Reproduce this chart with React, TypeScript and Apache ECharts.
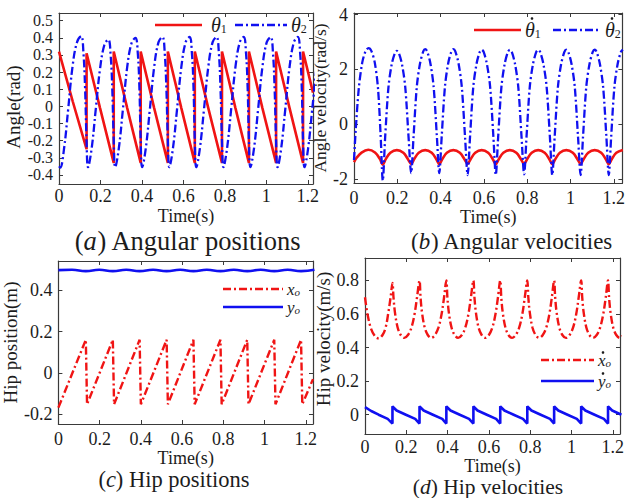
import React, { useEffect, useRef } from 'react';
import * as echarts from 'echarts';

// ---------------- data ----------------
// (a) angular positions
const theta1: number[][] = [
  [0, 0.32], [0.066, 0.03], [0.133, -0.25], [0.133, 0.31],
  [0.198, -0.01], [0.264, -0.33], [0.264, 0.32],
  [0.329, -0.01], [0.394, -0.33], [0.394, 0.32],
  [0.459, -0.01], [0.525, -0.33], [0.525, 0.32],
  [0.59, -0.01], [0.655, -0.33], [0.655, 0.32],
  [0.72, -0.01], [0.786, -0.33], [0.786, 0.32],
  [0.851, -0.01], [0.916, -0.33], [0.916, 0.32],
  [0.981, -0.01], [1.047, -0.33], [1.047, 0.32],
  [1.112, -0.01], [1.177, -0.33], [1.177, 0.32],
  [1.225, 0.08],
];
const theta2: number[][] = [
  [0, -0.35], [0.006, -0.358], [0.024, -0.25], [0.044, -0.02], [0.066, 0.24], [0.087, 0.375], [0.107, 0.41], [0.118, 0.31], [0.126, 0.1],
  [0.133, -0.2], [0.14, -0.355], [0.157, -0.25], [0.177, -0.02], [0.198, 0.22], [0.219, 0.36], [0.238, 0.39], [0.249, 0.3], [0.257, 0.1],
  [0.264, -0.2], [0.271, -0.355], [0.288, -0.25], [0.308, -0.02], [0.329, 0.23], [0.35, 0.37], [0.369, 0.4], [0.38, 0.31], [0.388, 0.1],
  [0.394, -0.2], [0.401, -0.355], [0.418, -0.25], [0.438, -0.02], [0.459, 0.23], [0.48, 0.375], [0.499, 0.405], [0.51, 0.31], [0.518, 0.1],
  [0.525, -0.2], [0.532, -0.355], [0.549, -0.25], [0.569, -0.02], [0.59, 0.23], [0.611, 0.375], [0.63, 0.405], [0.641, 0.31], [0.649, 0.1],
  [0.655, -0.2], [0.662, -0.355], [0.679, -0.25], [0.699, -0.02], [0.72, 0.23], [0.741, 0.375], [0.76, 0.405], [0.771, 0.31], [0.779, 0.1],
  [0.786, -0.2], [0.793, -0.355], [0.81, -0.25], [0.83, -0.02], [0.851, 0.23], [0.872, 0.375], [0.891, 0.405], [0.902, 0.31], [0.91, 0.1],
  [0.916, -0.2], [0.923, -0.355], [0.94, -0.25], [0.96, -0.02], [0.981, 0.23], [1.002, 0.375], [1.021, 0.405], [1.032, 0.31], [1.04, 0.1],
  [1.047, -0.2], [1.054, -0.355], [1.071, -0.25], [1.091, -0.02], [1.112, 0.23], [1.133, 0.375], [1.152, 0.405], [1.163, 0.31], [1.171, 0.1],
  [1.177, -0.2], [1.184, -0.355], [1.201, -0.25], [1.221, -0.02], [1.242, 0.23],
];

// (b) angular velocities
const theta1dot: number[][] = [
  [0, -1.38], [0.012, -1.22], [0.035, -1.03], [0.066, -0.93], [0.097, -1.03], [0.12, -1.27],
  [0.133, -1.47], [0.146, -1.28], [0.168, -1.04], [0.198, -0.94], [0.228, -1.04], [0.25, -1.28],
  [0.264, -1.45], [0.277, -1.28], [0.299, -1.04], [0.329, -0.94], [0.359, -1.04], [0.381, -1.28],
  [0.394, -1.45], [0.407, -1.28], [0.429, -1.04], [0.459, -0.94], [0.489, -1.04], [0.511, -1.28],
  [0.525, -1.45], [0.538, -1.28], [0.56, -1.04], [0.59, -0.94], [0.62, -1.04], [0.642, -1.28],
  [0.655, -1.45], [0.668, -1.28], [0.69, -1.04], [0.72, -0.94], [0.75, -1.04], [0.772, -1.28],
  [0.786, -1.45], [0.799, -1.28], [0.821, -1.04], [0.851, -0.94], [0.881, -1.04], [0.903, -1.28],
  [0.916, -1.45], [0.929, -1.28], [0.951, -1.04], [0.981, -0.94], [1.011, -1.04], [1.033, -1.28],
  [1.047, -1.45], [1.06, -1.28], [1.082, -1.04], [1.112, -0.94], [1.142, -1.04], [1.164, -1.28],
  [1.177, -1.45], [1.19, -1.28], [1.212, -1.04], [1.242, -0.94],
];
const theta2dot: number[][] = [
  [0, -1.3], [0.008, -0.2], [0.022, 1.3], [0.038, 2.25], [0.054, 2.68], [0.067, 2.78], [0.08, 2.68], [0.096, 2.25], [0.111, 1.3], [0.123, -0.4],
  [0.133, -2.05], [0.144, -0.46], [0.159, 1.34], [0.174, 2.18], [0.189, 2.6], [0.198, 2.68], [0.207, 2.6], [0.222, 2.18], [0.237, 1.34], [0.252, -0.46],
  [0.264, -1.78], [0.275, -0.46], [0.29, 1.36], [0.305, 2.22], [0.32, 2.66], [0.329, 2.74], [0.338, 2.66], [0.353, 2.22], [0.368, 1.36], [0.383, -0.46],
  [0.394, -1.78], [0.405, -0.46], [0.42, 1.36], [0.435, 2.22], [0.45, 2.66], [0.459, 2.74], [0.468, 2.66], [0.483, 2.22], [0.498, 1.36], [0.513, -0.46],
  [0.525, -1.85], [0.536, -0.46], [0.551, 1.36], [0.566, 2.2], [0.581, 2.64], [0.59, 2.72], [0.599, 2.64], [0.614, 2.2], [0.629, 1.36], [0.644, -0.46],
  [0.655, -1.85], [0.666, -0.46], [0.681, 1.36], [0.696, 2.2], [0.711, 2.64], [0.72, 2.72], [0.729, 2.64], [0.744, 2.2], [0.759, 1.36], [0.774, -0.46],
  [0.786, -1.82], [0.797, -0.46], [0.812, 1.36], [0.827, 2.2], [0.842, 2.64], [0.851, 2.72], [0.86, 2.64], [0.875, 2.2], [0.89, 1.36], [0.905, -0.46],
  [0.916, -1.85], [0.927, -0.46], [0.942, 1.36], [0.957, 2.2], [0.972, 2.64], [0.981, 2.72], [0.99, 2.64], [1.005, 2.2], [1.02, 1.36], [1.035, -0.46],
  [1.047, -1.85], [1.058, -0.46], [1.073, 1.36], [1.088, 2.2], [1.103, 2.64], [1.112, 2.72], [1.121, 2.64], [1.136, 2.2], [1.151, 1.36], [1.166, -0.46],
  [1.177, -1.85], [1.188, -0.46], [1.203, 1.36], [1.218, 2.2], [1.233, 2.64], [1.242, 2.72],
];

// (c) hip positions
const hipX: number[][] = [
  [0, -0.168], [0.133, 0.16], [0.139, -0.152], [0.264, 0.16], [0.27, -0.152],
  [0.394, 0.16], [0.4, -0.152], [0.525, 0.16], [0.531, -0.152], [0.655, 0.16],
  [0.661, -0.152], [0.786, 0.16], [0.792, -0.152], [0.916, 0.16], [0.922, -0.152],
  [1.047, 0.16], [1.053, -0.152], [1.177, 0.16], [1.183, -0.152], [1.235, -0.03],
];
const hipY: number[][] = [
  [0, 0.497], [0.066, 0.499], [0.133, 0.492], [0.198, 0.499], [0.264, 0.492],
  [0.329, 0.499], [0.394, 0.492], [0.459, 0.499], [0.525, 0.492], [0.59, 0.499],
  [0.655, 0.492], [0.72, 0.499], [0.786, 0.492], [0.851, 0.499], [0.916, 0.492],
  [0.981, 0.499], [1.047, 0.492], [1.112, 0.499], [1.177, 0.492], [1.242, 0.499],
];

// (d) hip velocities
const hipXdot: number[][] = [
  [0, 0.7], [0.012, 0.6], [0.03, 0.51], [0.05, 0.465], [0.066, 0.455], [0.085, 0.475], [0.1, 0.52], [0.112, 0.6], [0.124, 0.7],
  [0.133, 0.785], [0.138, 0.7], [0.145, 0.61], [0.158, 0.52], [0.173, 0.475], [0.19, 0.458], [0.208, 0.475], [0.225, 0.52], [0.24, 0.6], [0.252, 0.7],
  [0.264, 0.8], [0.269, 0.7], [0.276, 0.61], [0.289, 0.52], [0.304, 0.475], [0.321, 0.458], [0.339, 0.475], [0.356, 0.52], [0.371, 0.6], [0.383, 0.7],
  [0.394, 0.8], [0.399, 0.7], [0.406, 0.61], [0.419, 0.52], [0.434, 0.475], [0.451, 0.458], [0.469, 0.475], [0.486, 0.52], [0.501, 0.6], [0.513, 0.7],
  [0.525, 0.8], [0.53, 0.7], [0.537, 0.61], [0.55, 0.52], [0.565, 0.475], [0.582, 0.458], [0.6, 0.475], [0.617, 0.52], [0.632, 0.6], [0.644, 0.7],
  [0.655, 0.8], [0.66, 0.7], [0.667, 0.61], [0.68, 0.52], [0.695, 0.475], [0.712, 0.458], [0.73, 0.475], [0.747, 0.52], [0.762, 0.6], [0.774, 0.7],
  [0.786, 0.8], [0.791, 0.7], [0.798, 0.61], [0.811, 0.52], [0.826, 0.475], [0.843, 0.458], [0.861, 0.475], [0.878, 0.52], [0.893, 0.6], [0.905, 0.7],
  [0.916, 0.8], [0.921, 0.7], [0.928, 0.61], [0.941, 0.52], [0.956, 0.475], [0.973, 0.458], [0.991, 0.475], [1.008, 0.52], [1.023, 0.6], [1.035, 0.7],
  [1.047, 0.8], [1.052, 0.7], [1.059, 0.61], [1.072, 0.52], [1.087, 0.475], [1.104, 0.458], [1.122, 0.475], [1.139, 0.52], [1.154, 0.6], [1.166, 0.7],
  [1.177, 0.8], [1.182, 0.7], [1.189, 0.61], [1.202, 0.52], [1.217, 0.475], [1.234, 0.458], [1.252, 0.475],
];
const hipYdot: number[][] = [
  [0, 0.045], [0.03, 0.022], [0.066, 0.0], [0.11, -0.025], [0.133, -0.053], [0.133, 0.05],
  [0.153, 0.025], [0.198, 0.0], [0.243, -0.025], [0.264, -0.053], [0.264, 0.05],
  [0.284, 0.025], [0.329, 0.0], [0.374, -0.025], [0.394, -0.053], [0.394, 0.05],
  [0.414, 0.025], [0.459, 0.0], [0.504, -0.025], [0.525, -0.053], [0.525, 0.05],
  [0.545, 0.025], [0.59, 0.0], [0.635, -0.025], [0.655, -0.053], [0.655, 0.05],
  [0.675, 0.025], [0.72, 0.0], [0.765, -0.025], [0.786, -0.053], [0.786, 0.05],
  [0.806, 0.025], [0.851, 0.0], [0.896, -0.025], [0.916, -0.053], [0.916, 0.05],
  [0.936, 0.025], [0.981, 0.0], [1.026, -0.025], [1.047, -0.053], [1.047, 0.05],
  [1.067, 0.025], [1.112, 0.0], [1.157, -0.025], [1.177, -0.053], [1.177, 0.05],
  [1.197, 0.025], [1.242, 0.0],
];

// axis extents, tick steps and texts
const xExtents = [1.225, 1.24, 1.235, 1.235];
const yExtents = [[-0.453, 0.545], [-2.14, 4.06], [-0.247, 0.541], [-0.115, 0.934]];
const yTickSteps = [0.1, 2, 0.2, 0.2];
const xTickStep = 0.2;
const xName = 'Time(s)';
const yNames = ['Angle(rad)', 'Angle velocity(rad/s)', 'Hip position(m)', 'Hip velocity(m/s)'];
const captions = [['a', 'Angular positions'], ['b', 'Angular velocities'], ['c', 'Hip positions'], ['d', 'Hip velocities']];
// legend entries: [letter, subscript, has time-derivative dot]
const legendTexts: [string, string, boolean][] = [
  ['θ', '1', false], ['θ', '2', false],
  ['θ', '1', true], ['θ', '2', true],
  ['x', 'o', false], ['y', 'o', false],
  ['x', 'o', true], ['y', 'o', true],
];

// ---------------- styling ----------------
const FONT = 'Liberation Serif, Times New Roman, serif';
const TXT = '#1c1c1c';
const FRAME = '#3a3a3a';
const RED = '#f01414';
const BLUE = '#1010f0';
const DASHDOT = [8, 3, 2, 3];

const grids = [
  { left: 59, top: 13, width: 254, height: 171 },
  { left: 354, top: 13, width: 273, height: 170 },
  { left: 56, top: 261, width: 257, height: 163 },
  { left: 365, top: 258, width: 255, height: 176 },
];
const xLabelMargin = [3, 6, 6, 4];
const xNameGap = [23, 24, 22, 20];
const yLabelSize = [16, 18, 18, 18];
const yLabelLine = [14, 18, 18, 18];
const yNameGap = [36, 23, 35, 31];
const yNameSize = [19, 17.5, 19, 19];
const yNamePad = [[0, 17, 0, 0], [0, 0, 0, 0], [0, 0, 0, 0], [0, 0, 0, 14]];
const captionPos = [[188, 241, 26.5], [512, 241, 23], [174, 479, 22.5], [488, 487, 21.5]];
// legend layout: [x1, x2, y, textX, letter size]
const legendPos = [
  [155, 202, 25, 211, 20], [235, 287, 25, 291, 20],
  [474, 521, 30, 525, 20], [553, 601, 30, 605, 20],
  [223, 283, 289, 287, 17], [223, 283, 307, 287, 17],
  [541, 594, 360, 598, 17], [541, 594, 381, 598, 17],
];
const legendColor = [RED, BLUE, RED, BLUE, RED, BLUE, RED, BLUE];
const legendDash: any[] = [null, DASHDOT, null, DASHDOT, DASHDOT, null, DASHDOT, null];
const legendItalicSub = [false, false, false, false, true, true, true, true];

const fmt = (v: number) => String(Math.round(v * 1000) / 1000);

function buildOption() {
  const xAxis: any[] = [];
  const yAxis: any[] = [];
  grids.forEach((_, g) => {
    const common = {
      type: 'value', gridIndex: g,
      splitLine: { show: false },
      axisLine: { show: true, onZero: false, lineStyle: { color: FRAME, width: 1.2 } },
      axisTick: { show: true, inside: true, length: 4, lineStyle: { color: FRAME, width: 1 } },
    };
    const xs = { min: 0, max: xExtents[g], minInterval: xTickStep, maxInterval: xTickStep };
    xAxis.push({
      ...common, ...xs, position: 'bottom',
      axisLabel: { show: true, showMinLabel: true, showMaxLabel: false, margin: xLabelMargin[g], color: TXT, fontFamily: FONT, fontWeight: 'normal', fontSize: 18, formatter: fmt },
      name: xName, nameLocation: 'middle', nameGap: xNameGap[g],
      nameTextStyle: { color: TXT, fontFamily: FONT, fontWeight: 'normal', fontSize: 18 },
    });
    xAxis.push({ ...common, ...xs, position: 'top', axisLabel: { show: false } });
    const ys = { min: yExtents[g][0], max: yExtents[g][1], minInterval: yTickSteps[g], maxInterval: yTickSteps[g] };
    yAxis.push({
      ...common, ...ys, position: 'left',
      axisLabel: { show: true, showMinLabel: false, showMaxLabel: false, margin: 6, color: TXT, fontFamily: FONT, fontWeight: 'normal', fontSize: yLabelSize[g], lineHeight: yLabelLine[g], formatter: fmt },
      name: yNames[g], nameLocation: 'middle', nameGap: yNameGap[g],
      nameTextStyle: { color: TXT, fontFamily: FONT, fontWeight: 'normal', fontSize: yNameSize[g], padding: yNamePad[g] },
    });
    yAxis.push({ ...common, ...ys, position: 'right', axisLabel: { show: false } });
  });

  const line = (name: string, g: number, data: number[][], color: string, dash: any, width: number, smooth: any) => ({
    type: 'line', name, xAxisIndex: 2 * g, yAxisIndex: 2 * g, data,
    symbol: 'none', showSymbol: false, smooth, clip: true,
    lineStyle: { color, width, type: dash, cap: 'butt' }, itemStyle: { color },
  });

  const series = [
    line('θ1', 0, theta1, RED, 'solid', 2.6, false),
    line('θ2', 0, theta2, BLUE, DASHDOT, 2.3, 0.4),
    line('θ̇1', 1, theta1dot, RED, 'solid', 2.6, 0.35),
    line('θ̇2', 1, theta2dot, BLUE, DASHDOT, 2.3, 0.3),
    line('xo', 2, hipX, RED, DASHDOT, 2.4, false),
    line('yo', 2, hipY, BLUE, 'solid', 2.6, 0.5),
    line('ẋo', 3, hipXdot, RED, DASHDOT, 2.4, 0.35),
    line('ẏo', 3, hipYdot, BLUE, 'solid', 2.6, false),
  ];

  const graphic: any[] = [];
  // captions
  captions.forEach((c, k) => {
    graphic.push({
      type: 'text', x: captionPos[k][0], y: captionPos[k][1], silent: true,
      style: {
        text: `{n|(}{i|${c[0]}}{n|) ${c[1]}}`,
        align: 'center', verticalAlign: 'middle',
        rich: {
          n: { fontFamily: FONT, fontSize: captionPos[k][2], fill: TXT },
          i: { fontFamily: FONT, fontStyle: 'italic', fontSize: captionPos[k][2], fill: TXT },
        },
      },
    });
  });
  // legends (line sample + label)
  legendPos.forEach((p, k) => {
    const [x1, x2, y, tx, fs] = p;
    graphic.push({
      type: 'line', silent: true,
      shape: { x1, y1: y, x2, y2: y },
      style: { stroke: legendColor[k], lineWidth: 2.6, lineDash: legendDash[k] || null },
    });
    const [letter, sub, dot] = legendTexts[k];
    const subSize = Math.round(fs * 0.62);
    graphic.push({
      type: 'text', x: tx, y, silent: true,
      style: {
        text: `{i|${letter}}{s|${sub}}`,
        align: 'left', verticalAlign: 'middle',
        rich: {
          i: { fontFamily: FONT, fontStyle: 'italic', fontSize: fs, fill: TXT, lineHeight: fs },
          s: { fontFamily: FONT, fontStyle: legendItalicSub[k] ? 'italic' : 'normal', fontSize: subSize, fill: TXT, lineHeight: subSize - 4, verticalAlign: 'bottom' },
        },
      },
    });
    if (dot) {
      const isTheta = letter === 'θ';
      graphic.push({
        type: 'circle', silent: true,
        shape: { cx: tx + (isTheta ? 7 : 5), cy: y - (isTheta ? 11.5 : 7.5), r: 1.3 },
        style: { fill: TXT },
      });
    }
  });

  return {
    animation: false,
    backgroundColor: '#ffffff',
    grid: grids.map((g) => ({ ...g, containLabel: false })),
    xAxis, yAxis, series, graphic,
  };
}

export default function App() {
  const ref = useRef<HTMLDivElement>(null);
  useEffect(() => {
    if (!ref.current) return;
    const chart = echarts.init(ref.current, undefined, { renderer: 'svg' });
    chart.setOption(buildOption() as any);
    return () => chart.dispose();
  }, []);
  return (
    <div
      ref={ref}
      style={{ position: 'absolute', left: 0, top: 0, width: 628, height: 498, background: '#fff' }}
    />
  );
}
